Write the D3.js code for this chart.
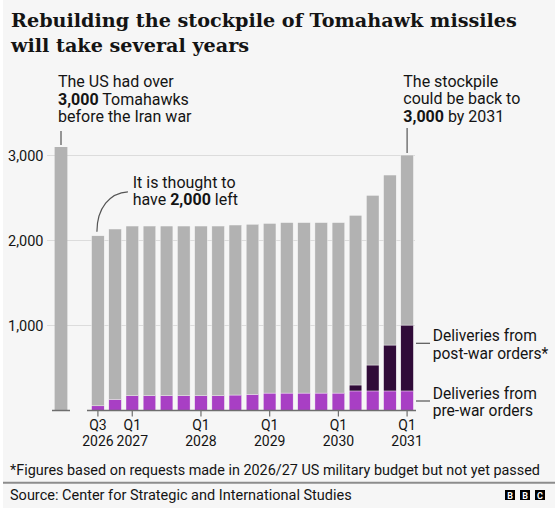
<!DOCTYPE html>
<html>
<head>
<meta charset="utf-8">
<script src="https://cdn.jsdelivr.net/npm/d3@7"></script>
<style>
  html, body { margin: 0; padding: 0; background: #ffffff; }
  svg { display: block; }
  text { font-family: Roboto, "Noto Sans", sans-serif; fill: #141414; }
</style>
</head>
<body>
<svg id="chart" width="558" height="518"></svg>
<script>
// stockpile before the war
const preWarLabel = "Before war";
const preWarStock = 3100;

// quarters shown on the chart
const quarters = [
  "Q3 2026", "Q4 2026",
  "Q1 2027", "Q2 2027", "Q3 2027", "Q4 2027",
  "Q1 2028", "Q2 2028", "Q3 2028", "Q4 2028",
  "Q1 2029", "Q2 2029", "Q3 2029", "Q4 2029",
  "Q1 2030", "Q2 2030", "Q3 2030", "Q4 2030",
  "Q1 2031"
];
// total stockpile each quarter
const totalStock = [2055, 2135, 2170, 2170, 2170, 2170, 2170, 2170, 2182, 2190,
                    2200, 2210, 2210, 2210, 2210, 2295, 2530, 2770, 3005];
// cumulative deliveries from pre-war orders
const preWarOrders = [55, 130, 175, 175, 175, 175, 175, 175, 182, 190,
                      205, 205, 205, 205, 205, 230, 230, 230, 230];
// cumulative deliveries from post-war orders
const postWarOrders = [0, 0, 0, 0, 0, 0, 0, 0, 0, 0,
                       0, 0, 0, 0, 0, 70, 305, 540, 775];

const yTicks = [1000, 2000, 3000];
const xTickQuarters = ["Q3 2026", "Q1 2027", "Q1 2028", "Q1 2029", "Q1 2030", "Q1 2031"];

const colors = { rest: "#b2b2b2", pre: "#a83fc4", post: "#300b38" };

const svg = d3.select("#chart");

// panel background
svg.append("rect").attr("x", 3).attr("y", 0).attr("width", 552).attr("height", 508)
  .attr("fill", "#f6f6f6");

// title
const title = svg.append("text")
  .attr("x", 11)
  .style("font-family", "'DejaVu Serif', serif")
  .style("font-weight", "bold")
  .style("font-size", "22px");
title.append("tspan").attr("x", 11).attr("y", 26.7).text("Rebuilding the stockpile of Tomahawk missiles");
title.append("tspan").attr("x", 11).attr("y", 51.7).text("will take several years");
// fit line 1 to the width in the reference
const firstLine = title.select("tspan").node();
const w = firstLine.getComputedTextLength();
title.style("font-size", (22 * 506 / w) + "px");

// scales
const y = d3.scaleLinear().domain([0, 3000]).range([410.5, 155.5]);
const x0 = d3.scaleBand().domain([preWarLabel]).range([52, 70]).paddingInner(0.27).paddingOuter(0.15);
const x = d3.scaleBand().domain(quarters).range([87, 418]).paddingInner(0.27).paddingOuter(0.27);

// gridlines and y labels
svg.append("g").selectAll("line").data(yTicks).join("line")
  .attr("x1", 47).attr("x2", 415)
  .attr("y1", d => y(d)).attr("y2", d => y(d))
  .attr("stroke", "#dcdcdc").attr("stroke-width", 1);

svg.append("g").selectAll("text").data(yTicks).join("text")
  .attr("x", 8).attr("y", d => y(d)).attr("dy", "0.36em")
  .style("font-size", "14.5px")
  .text(d => d3.format(",")(d));

// pre-war bar
svg.append("rect")
  .attr("x", x0(preWarLabel)).attr("width", x0.bandwidth())
  .attr("y", y(preWarStock)).attr("height", y(0) - y(preWarStock))
  .attr("fill", colors.rest);

// stacked bars
const rows = quarters.map((q, i) => ({
  q,
  pre: preWarOrders[i],
  post: postWarOrders[i],
  rest: totalStock[i] - preWarOrders[i] - postWarOrders[i]
}));
const stack = d3.stack().keys(["pre", "post", "rest"])(rows);

svg.append("g").selectAll("g").data(stack).join("g")
  .attr("fill", s => colors[s.key])
  .selectAll("rect").data(s => s.filter(d => d[1] > d[0])).join("rect")
  .attr("x", d => x(d.data.q)).attr("width", x.bandwidth())
  .attr("y", d => y(d[1])).attr("height", d => y(d[0]) - y(d[1]))
  .attr("stroke", "#f6f6f6").attr("stroke-width", 0.4);

// baselines
svg.append("line").attr("x1", 52).attr("x2", 70).attr("y1", y(0)).attr("y2", y(0))
  .attr("stroke", "#6e6e6e").attr("stroke-width", 1.5);
svg.append("line").attr("x1", 87).attr("x2", 416).attr("y1", y(0)).attr("y2", y(0))
  .attr("stroke", "#6e6e6e").attr("stroke-width", 1.5);

// x ticks
const xc = q => x(q) + x.bandwidth() / 2;
const ticks = svg.append("g").selectAll("g").data(xTickQuarters).join("g")
  .attr("transform", d => `translate(${xc(d)},0)`);
ticks.append("line").attr("y1", y(0)).attr("y2", y(0) + 6).attr("stroke", "#6e6e6e").attr("stroke-width", 1.2);
ticks.append("text").attr("y", 430).attr("text-anchor", "middle").style("font-size", "14px")
  .text(d => d.split(" ")[0]);
ticks.append("text").attr("y", 446).attr("text-anchor", "middle").style("font-size", "14px")
  .text(d => d.split(" ")[1]);

// annotation helper: lines are arrays of [text, bold] pieces
function note(xPos, yPos, lines, lh, size) {
  const t = svg.append("text").style("font-size", (size || 16) + "px");
  lines.forEach((parts, i) => {
    parts.forEach((p, j) => {
      const ts = t.append("tspan").text(p[0]).style("font-weight", p[1] ? "bold" : "normal");
      if (j === 0) ts.attr("x", xPos).attr("y", yPos + i * lh);
    });
  });
}

note(58, 87.3, [
  [["The US had over", false]],
  [["3,000", true], [" Tomahawks", false]],
  [["before the Iran war", false]]
], 17.3);
svg.append("line")
  .attr("x1", x0(preWarLabel) + x0.bandwidth() / 2).attr("x2", x0(preWarLabel) + x0.bandwidth() / 2)
  .attr("y1", 131).attr("y2", y(preWarStock) - 2)
  .attr("stroke", "#555").attr("stroke-width", 1.2);

note(403.3, 86.7, [
  [["The stockpile", false]],
  [["could be back to", false]],
  [["3,000", true], [" by 2031", false]]
], 17.4);
const lastQ = quarters[quarters.length - 1];
svg.append("line")
  .attr("x1", xc(lastQ)).attr("x2", xc(lastQ))
  .attr("y1", 128).attr("y2", y(totalStock[totalStock.length - 1]) - 2)
  .attr("stroke", "#555").attr("stroke-width", 1.2);

note(132.7, 187.7, [
  [["It is thought to", false]],
  [["have ", false], ["2,000", true], [" left", false]]
], 17.3);
const x1st = xc(quarters[0]);
const yTop1st = y(totalStock[0]) - 4;
svg.append("path")
  .attr("d", `M${x1st - 1},${yTop1st} C${x1st - 1},${yTop1st - 24} ${x1st + 12},${yTop1st - 39} ${x1st + 30},${yTop1st - 40}`)
  .attr("fill", "none").attr("stroke", "#555").attr("stroke-width", 1.2);

// legend labels
const legendItems = [
  { key: "post", lines: ["Deliveries from", "post-war orders*"], y: 341, ly: 343.3 },
  { key: "pre", lines: ["Deliveries from", "pre-war orders"], y: 398.5, ly: 401 }
];
legendItems.forEach(l => {
  svg.append("line").attr("x1", 416).attr("x2", 430).attr("y1", l.ly).attr("y2", l.ly)
    .attr("stroke", "#555").attr("stroke-width", 1.2);
  note(432.7, l.y, l.lines.map(s => [[s, false]]), 17.5, 15.6);
});

// footnote and source
svg.append("text").attr("x", 10).attr("y", 475).style("font-size", "14.4px")
  .text("*Figures based on requests made in 2026/27 US military budget but not yet passed");
svg.append("line").attr("x1", 3).attr("x2", 555).attr("y1", 482.7).attr("y2", 482.7)
  .attr("stroke", "#8c8c8c").attr("stroke-width", 2);
svg.append("text").attr("x", 10).attr("y", 500).style("font-size", "14.5px")
  .text("Source: Center for Strategic and International Studies");

// BBC blocks
const logo = svg.append("g").selectAll("g").data(["B", "B", "C"]).join("g")
  .attr("transform", (d, i) => `translate(${505 + i * 15},490)`);
logo.append("rect").attr("width", 10).attr("height", 10).attr("fill", "#000");
logo.append("text").attr("x", 5).attr("y", 8.6).attr("text-anchor", "middle")
  .style("font-size", "9px").style("font-weight", "bold").style("fill", "#fff")
  .text(d => d);
</script>
</body>
</html>
